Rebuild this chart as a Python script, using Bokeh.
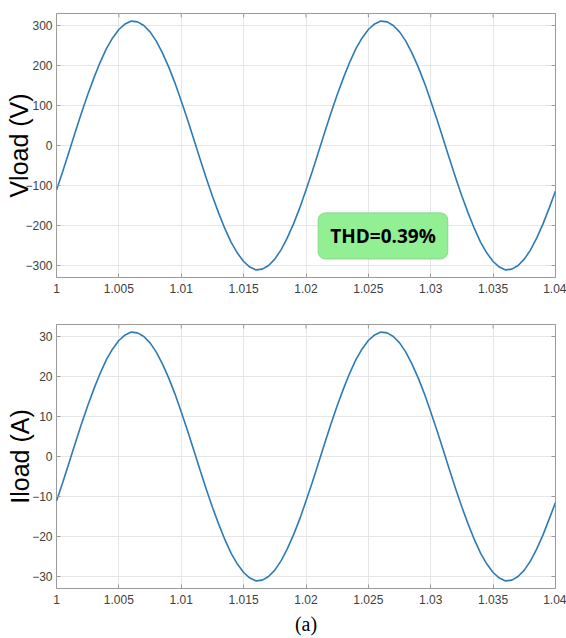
import math
from bokeh.plotting import figure
from bokeh.models import (FixedTicker, CustomJSTickFormatter, LinearAxis, Label,
                          Title, Range1d, Grid)
from bokeh.layouts import column
from bokeh.embed import file_html
from bokeh.resources import INLINE

# ---------------- data ----------------
time_s = [
    1.0000, 1.0005, 1.0010, 1.0015, 1.0020, 1.0025, 1.0030, 1.0035, 1.0040, 1.0045,
    1.0050, 1.0055, 1.0060, 1.0065, 1.0070, 1.0075, 1.0080, 1.0085, 1.0090, 1.0095,
    1.0100, 1.0105, 1.0110, 1.0115, 1.0120, 1.0125, 1.0130, 1.0135, 1.0140, 1.0145,
    1.0150, 1.0155, 1.0160, 1.0165, 1.0170, 1.0175, 1.0180, 1.0185, 1.0190, 1.0195,
    1.0200, 1.0205, 1.0210, 1.0215, 1.0220, 1.0225, 1.0230, 1.0235, 1.0240, 1.0245,
    1.0250, 1.0255, 1.0260, 1.0265, 1.0270, 1.0275, 1.0280, 1.0285, 1.0290, 1.0295,
    1.0300, 1.0305, 1.0310, 1.0315, 1.0320, 1.0325, 1.0330, 1.0335, 1.0340, 1.0345,
    1.0350, 1.0355, 1.0360, 1.0365, 1.0370, 1.0375, 1.0380, 1.0385, 1.0390, 1.0395,
    1.0400,
]

v_load = [
    -111, -65, -16, 33, 81, 127, 169, 208, 242, 269,
    290, 304, 311, 309, 300, 284, 261, 231, 196, 156,
    111, 65, 16, -33, -81, -127, -169, -208, -242, -269,
    -290, -304, -311, -309, -300, -284, -261, -231, -196, -156,
    -111, -65, -16, 33, 81, 127, 169, 208, 242, 269,
    290, 304, 311, 309, 300, 284, 261, 231, 196, 156,
    111, 65, 16, -33, -81, -127, -169, -208, -242, -269,
    -290, -304, -311, -309, -300, -284, -261, -231, -196, -156,
    -114,
]

i_load = [
    -11.1, -6.5, -1.6, 3.3, 8.1, 12.7, 16.9, 20.8, 24.2, 26.9,
    29.0, 30.4, 31.1, 30.9, 30.0, 28.4, 26.1, 23.1, 19.6, 15.6,
    11.1, 6.5, 1.6, -3.3, -8.1, -12.7, -16.9, -20.8, -24.2, -26.9,
    -29.0, -30.4, -31.1, -30.9, -30.0, -28.4, -26.1, -23.1, -19.6, -15.6,
    -11.1, -6.5, -1.6, 3.3, 8.1, 12.7, 16.9, 20.8, 24.2, 26.9,
    29.0, 30.4, 31.1, 30.9, 30.0, 28.4, 26.1, 23.1, 19.6, 15.6,
    11.1, 6.5, 1.6, -3.3, -8.1, -12.7, -16.9, -20.8, -24.2, -26.9,
    -29.0, -30.4, -31.1, -30.9, -30.0, -28.4, -26.1, -23.1, -19.6, -15.6,
    -11.5,
]

x_ticks = [1.0, 1.005, 1.01, 1.015, 1.02, 1.025, 1.03, 1.035, 1.04]
x_tick_labels = ["1", "1.005", "1.01", "1.015", "1.02", "1.025", "1.03", "1.035", "1.04"]
v_ticks = [-300, -200, -100, 0, 100, 200, 300]
i_ticks = [-30, -20, -10, 0, 10, 20, 30]

v_label = "Vload (V)"
i_label = "Iload (A)"
thd_text = "THD=0.39%"
thd_x = 1.02617
thd_y = -226
caption = "(a)"

# ---------------- style ----------------
LINE = "#2c7bb6"
FRAME = "#9a9a9a"
GRID = "#e6e6e6"
TICKTXT = "#404040"
FONT = "Liberation Sans"
X_RANGE = (1.0, 1.04)


def make_fig(height, b_top, b_bottom, y_range, y_ticks, y_label, lab_standoff):
    p = figure(width=566, height=height,
               x_range=Range1d(*X_RANGE), y_range=Range1d(*y_range),
               output_backend="svg", toolbar_location=None,
               min_border_left=56, min_border_right=11,
               min_border_top=b_top, min_border_bottom=b_bottom,
               x_axis_type=None, y_axis_type=None)
    p.outline_line_color = FRAME
    p.outline_line_width = 1
    p.background_fill_color = "white"
    p.border_fill_color = "white"

    xt = FixedTicker(ticks=x_ticks, minor_ticks=[])
    yt = FixedTicker(ticks=y_ticks, minor_ticks=[])
    fmt = CustomJSTickFormatter(
        args=dict(tick_vals=x_ticks, tick_labels=x_tick_labels),
        code="const i = tick_vals.findIndex(t => Math.abs(t - tick) < 1e-9); return i >= 0 ? tick_labels[i] : '';")

    def style(ax, standoff):
        ax.axis_line_color = None
        ax.major_tick_line_color = FRAME
        ax.major_tick_in = 4
        ax.major_tick_out = 0
        ax.minor_tick_line_color = None
        ax.major_label_text_font = FONT
        ax.major_label_text_font_size = "12px"
        ax.major_label_text_color = TICKTXT
        ax.major_label_standoff = standoff

    xb = LinearAxis(ticker=xt, formatter=fmt)
    style(xb, 6)
    p.add_layout(xb, "below")
    yl = LinearAxis(ticker=yt, axis_label=y_label)
    style(yl, 4)
    yl.axis_label_text_font = FONT
    yl.axis_label_text_font_size = "25px"
    yl.axis_label_text_font_style = "normal"
    yl.axis_label_text_color = "black"
    yl.axis_label_standoff = lab_standoff
    p.add_layout(yl, "left")

    p.add_layout(Grid(dimension=0, ticker=xt, grid_line_color=GRID))
    p.add_layout(Grid(dimension=1, ticker=yt, grid_line_color=GRID))

    # mirrored inward ticks on the top and right edges of the box
    p.scatter(x_ticks, [y_range[1]] * len(x_ticks), marker="dash", size=8,
              angle=math.pi / 2, line_color=FRAME, line_width=1)
    p.scatter([X_RANGE[1]] * len(y_ticks), y_ticks, marker="dash", size=8,
              line_color=FRAME, line_width=1)
    return p


p1 = make_fig(313, 13, 36, (-330, 330), v_ticks, v_label, -11)
p1.line(time_s, v_load, line_color=LINE, line_width=1.6)

shadow = Label(x=thd_x, y=thd_y, text=thd_text, x_offset=2, y_offset=-2,
               text_align="center", text_baseline="middle",
               text_font="Open Sans", text_font_size="19px", text_font_style="bold",
               text_color="#93ef93", text_alpha=0.0, background_fill_color="#b0b0b0",
               background_fill_alpha=0.6, border_radius=7, padding=(12, 10))
p1.add_layout(shadow)
thd = Label(x=thd_x, y=thd_y, text=thd_text,
            text_align="center", text_baseline="middle",
            text_font="Open Sans", text_font_size="19px", text_font_style="bold",
            text_color="black", background_fill_color="#93ef93",
            border_line_color="#86d886", border_radius=7, padding=(12, 10))
p1.add_layout(thd)

p2 = make_fig(325, 11, 45, (-33, 33), i_ticks, i_label, -5)
p2.line(time_s, i_load, line_color=LINE, line_width=1.6)
p2.add_layout(Title(text=caption, align="center", text_font="Liberation Serif",
                    text_font_size="20px", text_font_style="normal",
                    text_color="black", standoff=8), "below")

layout = column(p1, p2, spacing=0)
open("out.html", "w").write(file_html(layout, INLINE))
